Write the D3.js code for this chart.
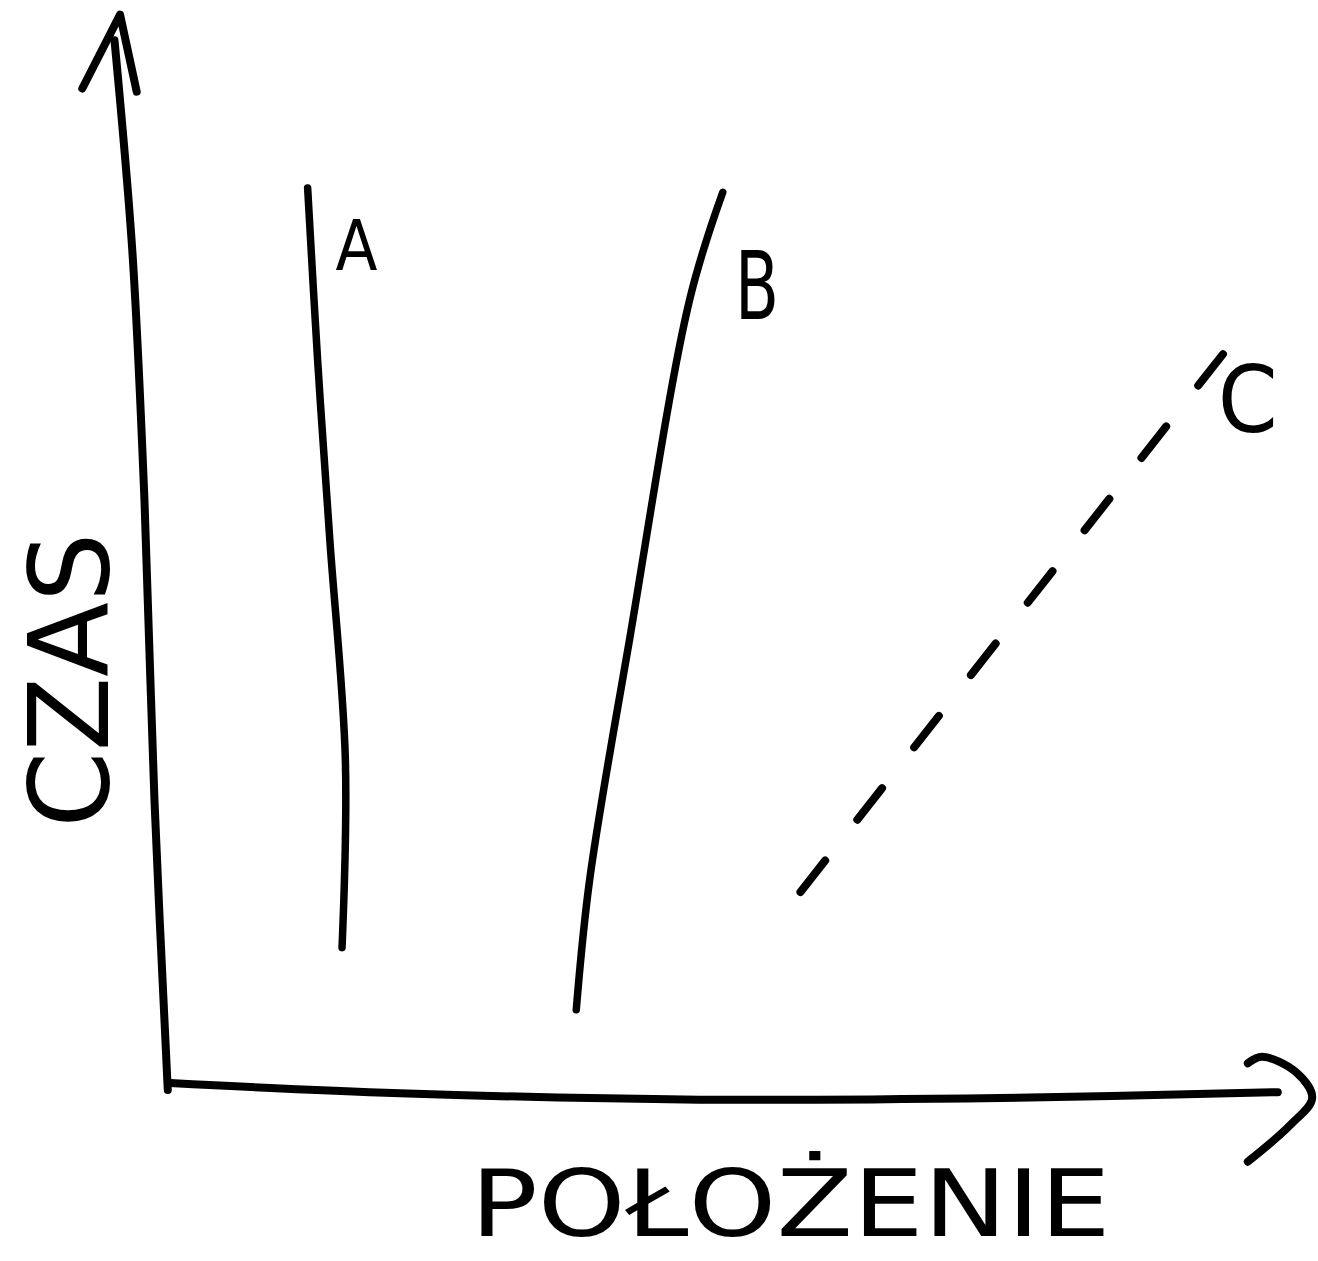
<!DOCTYPE html>
<html><head><meta charset="utf-8">
<script src="https://cdn.jsdelivr.net/npm/d3@7"></script>
<style>html,body{margin:0;padding:0;background:#fff;}</style>
</head><body>
<svg id="chart" width="1318" height="1261"></svg>
<script>
// Data (position, time) in chart units
const yAxisLine = [[-0.2,0],[-1.4,27.1],[-2.3,55.1],[-3.4,78.5],[-5.0,98.1]];
const yArrow = [[-7.9,93.6],[-4.5,100.5],[-3.0,93.3]];
const xAxisLine = [[0,0.65],[20.7,-0.3],[47.7,-0.9],[74.8,-0.75],[99.8,-0.2]];
const xArrow = [[97.1,2.5],[98.4,3.1],[101.4,1.7],[102.9,-0.75],[100.9,-3.3],[97.1,-6.7]];
const lineA = [[12.4,84.3],[13.3,68.2],[14.4,51.4],[15.8,30.8],[15.5,13.3]];
const lineB = [[49.8,83.9],[46.8,73.8],[41.4,42.1],[37.8,19.6],[36.6,7.5]];
const lineC = [[56.8,18.5],[96.7,71.2]];
const seriesLabels = [
  {text:"A", pos:14.9, time:76.6, size:70, len:42},
  {text:"B", pos:50.9, time:72.1, size:95, len:44},
  {text:"C", pos:94.4, time:61.5, size:92, len:60}
];
const xTitle = {text:"POŁOŻENIE", pos:55.9, time:-13.6};
const yTitle = {text:"CZAS", pos:-5.6, time:38.3};

const svg = d3.select("#chart");
const x = d3.scaleLinear().domain([0,100]).range([170,1280]);
const y = d3.scaleLinear().domain([0,100]).range([1090,20]);
const curve = d3.line().x(d=>x(d[0])).y(d=>y(d[1])).curve(d3.curveCatmullRom.alpha(0.5));
const straight = d3.line().x(d=>x(d[0])).y(d=>y(d[1]));

function stroke(sel, w){ return sel.attr("fill","none").attr("stroke","#000").attr("stroke-width",w)
  .attr("stroke-linecap","round").attr("stroke-linejoin","round"); }

stroke(svg.append("path").attr("d", curve(yAxisLine)), 8);
stroke(svg.append("path").attr("d", straight(yArrow)), 8);
stroke(svg.append("path").attr("d", curve(xAxisLine)), 8);
stroke(svg.append("path").attr("d", curve(xArrow)), 8);
stroke(svg.append("path").attr("d", curve(lineA)), 7.5);
stroke(svg.append("path").attr("d", curve(lineB)), 7.5);
stroke(svg.append("path").attr("d", straight(lineC)), 8).attr("stroke-dasharray","40,52");

svg.selectAll("text.lab").data(seriesLabels).enter().append("text")
  .attr("class","lab")
  .attr("x", d=>x(d.pos)).attr("y", d=>y(d.time))
  .attr("font-family","DejaVu Sans").attr("font-size", d=>d.size)
  .attr("textLength", d=>d.len).attr("lengthAdjust","spacingAndGlyphs")
  .attr("fill","#000").text(d=>d.text);

svg.append("text").attr("x", x(xTitle.pos)).attr("y", y(xTitle.time))
  .attr("text-anchor","middle").attr("font-family","DejaVu Sans").attr("font-size",92)
  .attr("textLength",640).attr("lengthAdjust","spacingAndGlyphs")
  .attr("fill","#000").text(xTitle.text);

svg.append("text").attr("transform", `translate(${x(yTitle.pos)},${y(yTitle.time)}) rotate(-90)`)
  .attr("text-anchor","middle").attr("font-family","DejaVu Sans").attr("font-size",110)
  .attr("textLength",295).attr("lengthAdjust","spacingAndGlyphs")
  .attr("fill","#000").text(yTitle.text);
</script>
</body></html>
